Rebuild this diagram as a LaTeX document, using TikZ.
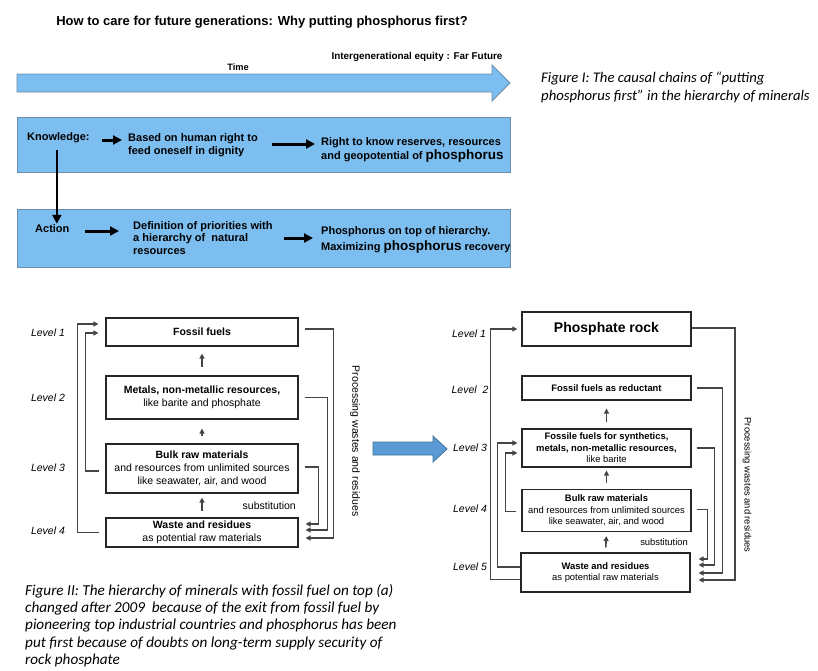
\documentclass[tikz,border=0pt]{standalone}
\usepackage{fontspec}
\setmainfont{Liberation Sans}
\newfontfamily\capfont{Carlito}
\usetikzlibrary{arrows.meta, positioning, calc}

\definecolor{lightsky}{HTML}{7DBEF0}
\definecolor{skyedge}{HTML}{6A8CAA}
\definecolor{midblue}{HTML}{5B9BD5}
\definecolor{midedge}{HTML}{41719C}
\definecolor{flowgray}{HTML}{454545}

\tikzset{
  band/.style={
    rectangle, draw=skyedge, line width=0.9pt, fill=lightsky
  },
  toptext/.style={
    anchor=west, align=left, inner sep=0pt,
    font=\fontsize{11}{13.3}\selectfont\bfseries
  },
  fatarrow/.style={
    -{Triangle[length=9pt,width=9pt]}, line width=3pt, black
  },
  lbox/.style={
    rectangle, draw=black!85, line width=1.1pt, minimum width=192pt,
    align=center, inner sep=1pt, font=\fontsize{10.5}{13}\selectfont
  },
  rbox/.style={
    rectangle, draw=black!85, line width=1.1pt, minimum width=169pt,
    align=center, inner sep=1pt, font=\fontsize{9.4}{11.5}\selectfont
  },
  uparrow/.style={
    -{Triangle[length=5pt,width=5pt]}, line width=1.6pt, flowgray,
    shorten <=7pt, shorten >=7pt
  },
  loopline/.style={
    -{Triangle[length=5pt,width=5pt]}, line width=1.6pt, flowgray,
    shorten <=6pt, shorten >=7pt
  },
  lvl/.style={font=\fontsize{10.5}{12}\selectfont\itshape, inner sep=0pt},
  caption/.style={
    anchor=west, align=left, inner sep=0pt,
    font=\capfont\itshape\fontsize{15.2}{17.4}\selectfont
  }
}

\begin{document}
\begin{tikzpicture}[x=1pt, y=-1pt]
    \useasboundingbox (0,0) rectangle (818,670);

    % Title and time line
    \node[font=\fontsize{13}{15}\selectfont\bfseries] (title) at (262,22)
      {How to care for future generations: Why putting phosphorus first?};
    \draw[band] (17,74) -- (492,74) -- (492,65) -- (510,83) -- (492,101)
      -- (492,92) -- (17,92) -- cycle;
    \node[font=\fontsize{9.2}{10}\selectfont\bfseries] (time) at (238,67) {Time};
    \node[font=\fontsize{9.9}{11}\selectfont\bfseries, anchor=east] (far) at (506,57)
      {Intergenerational equity : Far Future};

    % Knowledge and action bands
    \node[band, minimum width=493pt, minimum height=55pt] (kband) at (263.5,144.5) {};
    \node[band, minimum width=493pt, minimum height=58pt] (aband) at (263.5,238) {};

    \node[toptext] (know) at (27,138) {Knowledge:};
    \node[toptext] (based) at (128,145) {Based on human right to\\feed oneself in dignity};
    \node[toptext] (rightknow) at (321,150)
      {Right to know reserves, resources\\and geopotential of {\fontsize{13.5}{14}\selectfont phosphorus}};
    \node[toptext] (action) at (35,229) {Action};
    \node[toptext, font=\fontsize{11}{12.8}\selectfont\bfseries] (defin) at (133,238)
      {Definition of priorities with\\a hierarchy of \ natural\\resources};
    \node[toptext, font=\fontsize{11}{15.5}\selectfont\bfseries] (ptop) at (321,240)
      {Phosphorus on top of hierarchy.\\Maximizing {\fontsize{13.5}{14}\selectfont phosphorus} recovery};

    \draw[fatarrow, shorten <=12pt, shorten >=6pt]
      ([yshift=-2pt]know.east) -- ([yshift=-2pt]know.east -| based.west);
    \draw[fatarrow, shorten <=14pt, shorten >=6pt]
      ([yshift=1pt]based.east) -- ([yshift=1pt]based.east -| rightknow.west);
    \draw[fatarrow, shorten <=15pt, shorten >=14pt]
      ([yshift=-2pt]action.east) -- ([yshift=-2pt]action.east -| defin.west);
    \draw[fatarrow, shorten <=11pt, shorten >=8pt]
      (defin.east) -- (defin.east -| ptop.west);
    \draw[fatarrow, line width=2.6pt, shorten <=7pt, shorten >=1pt]
      ([xshift=-1.5pt]know.south) -- ([xshift=-1.5pt]know.south |- action.north);

    % Hierarchy (a): fossil fuel on top
    \node[lbox, minimum height=28pt] (lfossil) at (202,332) {\textbf{Fossil fuels}};
    \node[lbox, minimum height=43pt] (lmetal) at (202,397.5)
      {\textbf{Metals, non-metallic resources,}\\like barite and phosphate};
    \node[lbox, minimum height=49pt] (lbulk) at (202,468.5)
      {\textbf{Bulk raw materials}\\and resources from unlimited sources\\like seawater, air, and wood};
    \node[lbox, minimum height=29pt] (lwaste) at (202,532.5)
      {\textbf{Waste and residues}\\as potential raw materials};

    \node[lvl] (la) at (48,333) {Level 1};
    \node[lvl] (lb) at (48,398) {Level 2};
    \node[lvl] (lc) at (48,468) {Level 3};
    \node[lvl] (ld) at (48,531) {Level 4};

    \draw[uparrow, shorten <=8pt] (lmetal.north) -- (lfossil.south);
    \draw[uparrow, shorten >=9pt] (lbulk.north) -- (lmetal.south);
    \draw[uparrow, shorten <=6pt, shorten >=4pt] (lwaste.north) -- (lbulk.south);

    \draw[loopline] (lwaste.west) -- ++(-28,0) |- ([yshift=8pt]lfossil.west);
    \draw[loopline] ([yshift=-2.5pt]lbulk.west) -- ++(-20,0) |- ([yshift=-1pt]lfossil.west);
    \draw[loopline] ([yshift=3pt]lfossil.east) -- ++(35,0) |- ([yshift=-5.5pt]lwaste.east);
    \draw[loopline] (lmetal.east) -- ++(29,0) |- ([yshift=2.5pt]lwaste.east);
    \draw[loopline] ([yshift=1.5pt]lbulk.east) -- ++(20,0) |- ([yshift=8.5pt]lwaste.east);

    \node[font=\fontsize{10.5}{12}\selectfont, anchor=east, inner sep=0pt] (lsubst) at (296,506) {substitution};
    \node[font=\fontsize{10.5}{12}\selectfont, rotate=-90] (lproc) at (355,441) {Processing wastes and residues};

    % Change of hierarchy
    \draw[draw=midedge, line width=0.8pt, fill=midblue] (373,442) -- (433,442) -- (433,436)
      -- (447,449) -- (433,462) -- (433,455) -- (373,455) -- cycle;

    % Hierarchy (b): phosphorus first
    \node[rbox, minimum height=34pt, line width=1.4pt] (rrock) at (606.5,329)
      {\fontsize{14}{16}\selectfont\bfseries Phosphate rock};
    \node[rbox, minimum height=24pt] (rreduct) at (606.5,388) {\textbf{Fossil fuels as reductant}};
    \node[rbox, minimum height=38pt] (rsynth) at (606.5,448)
      {\textbf{Fossile fuels for synthetics,}\\\textbf{metals, non-metallic resources,}\\like barite};
    \node[rbox, minimum height=42pt] (rbulk) at (606.5,510.5)
      {\textbf{Bulk raw materials}\\and resources from unlimited sources\\like seawater, air, and wood};
    \node[rbox, minimum height=39pt] (rwaste) at (605.5,572.5)
      {\textbf{Waste and residues}\\as potential raw materials};

    \node[lvl] (ra) at (469,334) {Level 1};
    \node[lvl] (rb) at (470,390) {Level \ 2};
    \node[lvl] (rc) at (470,448) {Level 3};
    \node[lvl] (rd) at (470,509) {Level 4};
    \node[lvl] (re) at (470,567) {Level 5};

    \draw[uparrow, shorten <=6pt, shorten >=8pt] (rsynth.north) -- (rreduct.south);
    \draw[uparrow, shorten <=6pt, shorten >=3pt] (rbulk.north) -- (rsynth.south);
    \draw[uparrow, shorten <=5pt, shorten >=4pt] (rwaste.north) -- (rbulk.south);

    \draw[loopline, shorten <=0pt, shorten >=4pt] ([yshift=-7pt]rwaste.west) -- ++(-30,0) |- (rrock.west);
    \draw[loopline, shorten <=0pt, shorten >=4pt] ([yshift=5.5pt]rwaste.west) -- ++(-23,0) |- ([yshift=5pt]rsynth.west);
    \draw[loopline, shorten <=5pt, shorten >=4pt] ([yshift=-1pt]rbulk.west) -- ++(-16,0) |- ([yshift=-5pt]rsynth.west);

    \draw[loopline, shorten <=0pt, shorten >=8pt] ([yshift=1pt]rrock.east) -- ++(43,0) |- ([yshift=-7.5pt]rwaste.east);
    \draw[loopline, shorten <=5pt, shorten >=8pt] (rreduct.east) -- ++(31,0) |- ([yshift=-0.5pt]rwaste.east);
    \draw[loopline, shorten <=5pt, shorten >=8pt] (rsynth.east) -- ++(23,0) |- ([yshift=7.5pt]rwaste.east);
    \draw[loopline, shorten <=5pt, shorten >=8pt] ([yshift=1pt]rbulk.east) -- ++(16,0) |- ([yshift=13.5pt]rwaste.east);

    \node[font=\fontsize{9.4}{11}\selectfont, anchor=east, inner sep=0pt] (rsubst) at (688,542) {substitution};
    \node[font=\fontsize{9.4}{11}\selectfont, rotate=-90] (rproc) at (747,485) {Processing wastes and residues};

    % Captions
    \node[caption, font=\capfont\itshape\fontsize{14.7}{18}\selectfont] (capone) at (541,87)
      {Figure I: The causal chains of “putting\\phosphorus first” in the hierarchy of minerals};
    \node[caption] (captwo) at (25,625.5)
      {Figure II: The hierarchy of minerals with fossil fuel on top (a)\\
       changed after 2009 \ because of the exit from fossil fuel by\\
       pioneering top industrial countries and phosphorus has been\\
       put first because of doubts on long-term supply security of\\
       rock phosphate};
\end{tikzpicture}
\end{document}
